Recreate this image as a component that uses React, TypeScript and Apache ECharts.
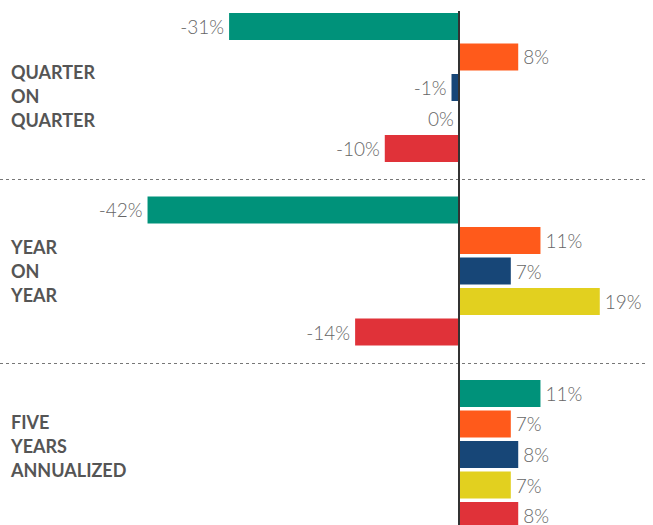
import React, { useEffect, useRef } from "react";
import * as echarts from "echarts";

const groups = ["QUARTER\nON\nQUARTER", "YEAR\nON\nYEAR", "FIVE\nYEARS\nANNUALIZED"];
const seriesNames = ["Series 1", "Series 2", "Series 3", "Series 4", "Series 5"];
const colors = ["#00927a", "#ff5a1b", "#174677", "#e2d01f", "#e03239"];
// values per series across the three groups
const s1 = [-31, -42, 11];
const s2 = [8, 11, 7];
const s3 = [-1, 7, 8];
const s4 = [0, 19, 7];
const s5 = [-10, -14, 8];
const seriesValues = [s1, s2, s3, s4, s5];

export default function App() {
  const ref = useRef<HTMLDivElement>(null);
  useEffect(() => {
    if (!ref.current) return;
    const chart = echarts.init(ref.current, null, { renderer: "svg" });
    const series: any[] = seriesValues.map((vals, i) => ({
      name: seriesNames[i],
      type: "bar",
      barWidth: 27,
      barGap: "13%",
      itemStyle: { color: colors[i] },
      data: vals.map((v) => ({
        value: v,
        label: { position: v > 0 ? "right" : "left" },
      })),
      label: {
        show: true,
        distance: 5,
        formatter: (p: any) => `${p.value}%`,
        color: "#666",
        fontFamily: "Lato",
        fontWeight: 300,
        fontSize: 19,
      },
    }));
    series[0].markLine = {
      silent: true,
      symbol: ["none", "none"],
      label: { show: false },
      lineStyle: { color: "#333", width: 2, type: "solid" },
      data: [[{ xAxis: 0, y: 11 }, { xAxis: 0, y: "100%" }]],
    };
    chart.setOption({
      animation: false,
      grid: {
        left: 0,
        top: -4.25,
        width: 645,
        height: 550.5,
        outerBoundsMode: "none",
        containLabel: false,
      },
      xAxis: {
        type: "value",
        min: -61.9,
        max: 25.1,
        show: false,
      },
      yAxis: {
        type: "category",
        inverse: true,
        data: groups,
        axisLine: { show: false, onZero: false },
        axisTick: { show: false },
        splitLine: {
          show: true,
          interval: 0,
          lineStyle: { color: "#777", width: 1, type: [3, 3] },
        },
        axisLabel: {
          inside: true,
          margin: 11,
          align: "left",
          interval: 0,
          formatter: (v: string, idx: number) => {
            const lines = v.split("\n").map((l) => `{a|${l}}`).join("\n");
            if (idx === 0) return `{s| }\n${lines}`;
            if (idx === 2) return `${lines}\n{s| }`;
            return lines;
          },
          rich: {
            a: {
              fontFamily: "Lato",
              fontWeight: "bold",
              fontSize: 18,
              lineHeight: 24,
              color: "#555",
            },
            s: { fontSize: 1, lineHeight: 17 },
          },
        },
      },
      series,
    });
    return () => chart.dispose();
  }, []);
  return (
    <div
      ref={ref}
      style={{ position: "absolute", left: 0, top: 0, width: 653, height: 525 }}
    />
  );
}
